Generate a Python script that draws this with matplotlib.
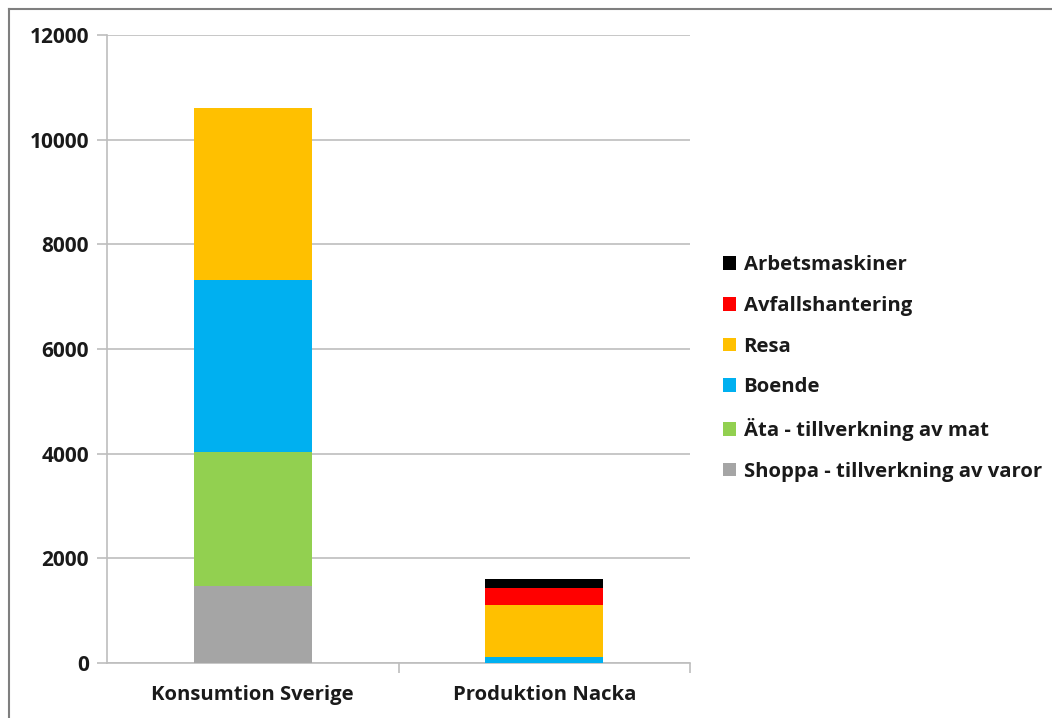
import matplotlib.pyplot as plt
from matplotlib.patches import Patch
from matplotlib.lines import Line2D
import numpy as np

categories = ['Konsumtion Sverige', 'Produktion Nacka']
series = ['Shoppa - tillverkning av varor', 'Äta - tillverkning av mat', 'Boende',
          'Resa', 'Avfallshantering', 'Arbetsmaskiner']
shoppa = [1480, 0]
ata = [2550, 0]
boende = [3290, 120]
resa = [3280, 980]
avfall = [0, 330]
arbets = [0, 180]
colors = ['#A5A5A5', '#92D050', '#00B0F0', '#FFC000', '#FF0000', '#000000']
yticks = [0, 2000, 4000, 6000, 8000, 10000, 12000]

W, H = 1052, 718
fig = plt.figure(figsize=(W/100, H/100), dpi=100, facecolor='white')
ax = fig.add_axes([107/W, 1-663/H, (690-107)/W, (663-35)/H])

x = np.arange(len(categories))
bottom = np.zeros(len(categories))
handles = []
for name, vals, c in zip(series, [shoppa, ata, boende, resa, avfall, arbets], colors):
    ax.bar(x, vals, width=0.405, bottom=bottom, color=c, zorder=3)
    bottom += np.array(vals)
    handles.append(Patch(facecolor=c, edgecolor='none', label=name))

grid_c = '#BEBEBE'
ax.set_xlim(-0.5, 1.5)
ax.set_ylim(0, 12000)
ax.set_yticks(yticks)
ax.set_yticklabels([str(v) for v in yticks])
ax.yaxis.grid(True, color=grid_c, linewidth=1.2, zorder=0)
for s in ['top', 'right']:
    ax.spines[s].set_visible(False)
for s in ['left', 'bottom']:
    ax.spines[s].set_color(grid_c)
    ax.spines[s].set_linewidth(1.2)
ax.tick_params(axis='y', length=7, width=1.2, color=grid_c, pad=6)
ax.set_xticks([0.5, 1.5], minor=False)
ax.set_xticklabels([])
ax.tick_params(axis='x', which='major', length=7, width=1.2, color=grid_c)
ax.set_xticks(x, minor=True)
ax.set_xticklabels(categories, minor=True)
ax.tick_params(axis='x', which='minor', length=0, pad=16)

fnt = 'Open Sans'
for lab in ax.get_yticklabels():
    lab.set_fontfamily(fnt)
    lab.set_fontweight('bold')
    lab.set_fontsize(15)
    lab.set_color('#1a1a1a')
for lab in ax.get_xticklabels(minor=True):
    lab.set_fontfamily(fnt)
    lab.set_fontweight('bold')
    lab.set_fontsize(14.6)
    lab.set_color('#1a1a1a')

leg = fig.legend(handles=handles[::-1], loc='upper left', bbox_to_anchor=(705/W, 1-237/H),
                 frameon=False, handlelength=0.65, handleheight=0.65, handletextpad=0.35,
                 labelspacing=1.02, prop={'family': fnt, 'weight': 'bold', 'size': 14.6})
for t in leg.get_texts():
    t.set_color('#1a1a1a')

# outer chart border
fig.add_artist(Line2D([9/W, 1], [1-9/H, 1-9/H], color='#7F7F7F', linewidth=1.5))
fig.add_artist(Line2D([9/W, 9/W], [0, 1-9/H], color='#7F7F7F', linewidth=1.5))

fig.savefig('out.png', dpi=100, facecolor='white')
